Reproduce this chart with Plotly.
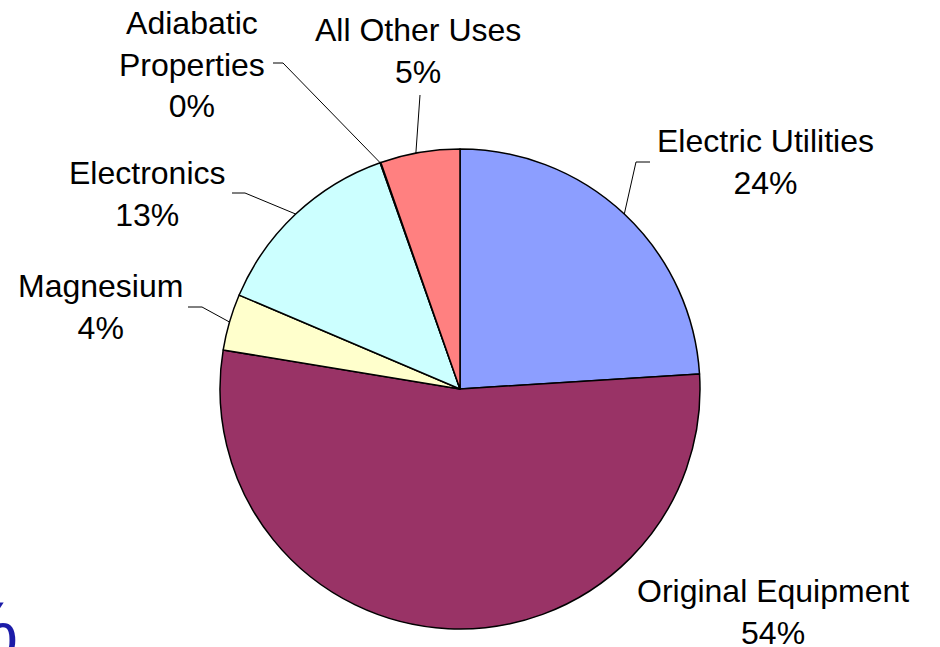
import math
import plotly.graph_objects as go

# ---- data ----
labels = ["Electric Utilities", "Original Equipment", "Magnesium",
          "Electronics", "Adiabatic Properties", "All Other Uses"]
values = [24.0, 53.6, 3.8, 13.2, 0.05, 5.35]
colors = ["#8C9EFF", "#993366", "#FFFFCC", "#CCFFFF", "#660066", "#FF8080"]
label_text = ["Electric Utilities", "Original Equipment", "Magnesium",
              "Electronics", "Adiabatic<br>Properties", "All Other Uses"]

# ---- layout constants (pixels) ----
W, H = 940, 647
CX, CY, R = 460, 389, 240
# label centre positions
label_pos = [(765, 162), (773, 612), (100, 307), (147, 194), (192, 64), (418, 51)]
# leader elbow points (None = no leader); list of points before pie edge
leader_pts = [
    [(650, 162), (636, 162)],
    None,
    [(188, 307), (202, 307)],
    [(232, 193), (245, 193)],
    [(273, 63), (283, 63)],
    [(420, 95)],
]
edge_frac = [0.5, 0.5, 0.5, 0.5, 0.0, 0.45]


def paper(x, y):
    return x / W, 1 - y / H


total = sum(values)
fig = go.Figure()
fig.add_trace(go.Pie(
    labels=labels, values=values, sort=False, direction="clockwise",
    rotation=0, textinfo="none", hoverinfo="label+percent",
    marker=dict(colors=colors, line=dict(color="black", width=1.5)),
    domain=dict(x=[(CX - R) / W, (CX + R) / W],
                y=[(H - CY - R) / H, (H - CY + R) / H]),
    showlegend=False,
))

annotations = []
shapes = []
cum = 0.0
for i, v in enumerate(values):
    pct = round(v / total * 100)
    frac = (cum + v * edge_frac[i]) / total
    cum += v
    ang = frac * 2 * math.pi
    ex, ey = CX + R * math.sin(ang), CY - R * math.cos(ang)
    lx, ly = label_pos[i]
    ax, ay = paper(lx, ly)
    annotations.append(dict(
        x=ax, y=ay, xref="paper", yref="paper", showarrow=False,
        text=f"{label_text[i]}<br>{pct}%", align="center",
        xanchor="center", yanchor="middle",
        font=dict(family="Liberation Sans, Arial", size=32, color="black"),
    ))
    if leader_pts[i]:
        pts = leader_pts[i] + [(ex, ey)]
        path = "M " + " L ".join(f"{paper(px_, py_)[0]},{paper(px_, py_)[1]}" for px_, py_ in pts)
        shapes.append(dict(type="path", xref="paper", yref="paper", path=path,
                           line=dict(color="black", width=1)))

# cropped blue glyph at bottom-left edge
annotations.append(dict(x=paper(20, 0)[0], y=paper(0, 630)[1], xref="paper", yref="paper",
                        showarrow=False, text="%", xanchor="right", yanchor="middle",
                        font=dict(family="Liberation Sans, Arial", size=80, color="#1C1CA8")))

fig.update_layout(
    width=W, height=H, margin=dict(l=0, r=0, t=0, b=0),
    paper_bgcolor="white", plot_bgcolor="white",
    annotations=annotations, shapes=shapes,
)
fig.write_html("out.html", config={"displayModeBar": False},
               post_script="document.body.style.margin='0';document.body.style.overflow='hidden';")
